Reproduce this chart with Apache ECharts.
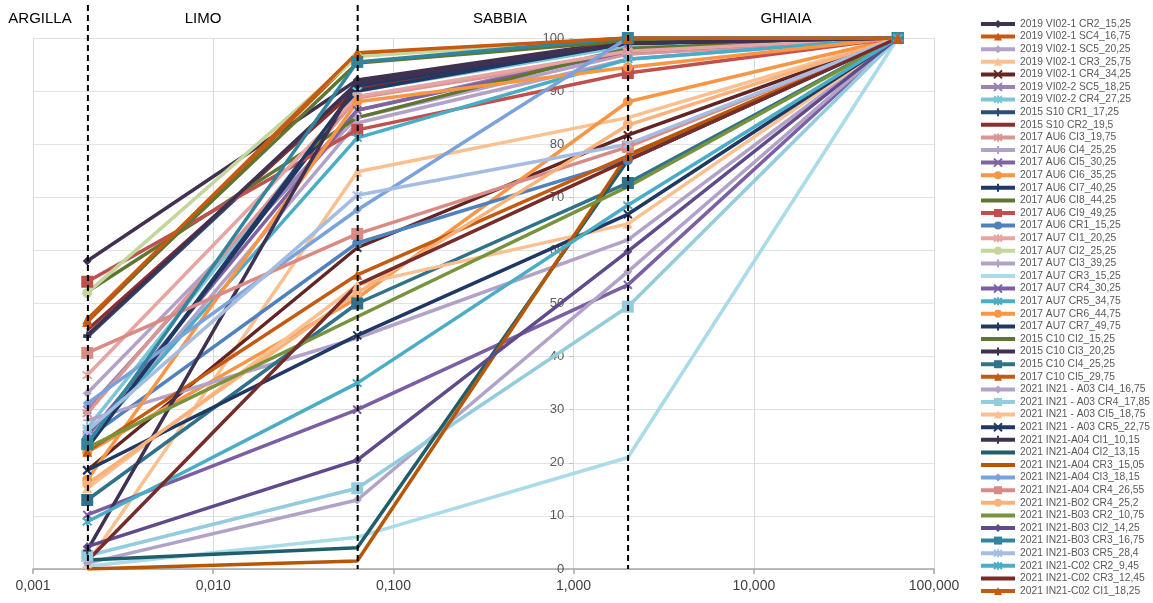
<!DOCTYPE html>
<html>
<head>
<meta charset="utf-8">
<script src="https://cdn.jsdelivr.net/npm/echarts@6/dist/echarts.min.js"></script>
<style>
  html, body { margin: 0; padding: 0; background: #ffffff; }
  #chart { width: 1153px; height: 603px; }
</style>
</head>
<body>
<div id="chart"></div>
<script>
// Sieve sizes (mm) at which the passing percentage was measured
const grainSizes = [0.002, 0.063, 2, 63];

const sampleNames = [
  '2019 VI02-1 CR2_15,25', '2019 VI02-1 SC4_16,75', '2019 VI02-1 SC5_20,25', '2019 VI02-1 CR3_25,75',
  '2019 VI02-1 CR4_34,25', '2019 VI02-2 SC5_18,25', '2019 VI02-2 CR4_27,25', '2015 S10 CR1_17,25',
  '2015 S10 CR2_19,5', '2017 AU6 CI3_19,75', '2017 AU6 CI4_25,25', '2017 AU6 CI5_30,25',
  '2017 AU6 CI6_35,25', '2017 AU6 CI7_40,25', '2017 AU6 CI8_44,25', '2017 AU6 CI9_49,25',
  '2017 AU6 CR1_15,25', '2017 AU7 CI1_20,25', '2017 AU7 CI2_25,25', '2017 AU7 CI3_39,25',
  '2017 AU7 CR3_15,25', '2017 AU7 CR4_30,25', '2017 AU7 CR5_34,75', '2017 AU7 CR6_44,75',
  '2017 AU7 CR7_49,75', '2015 C10 CI2_15,25', '2015 C10 CI3_20,25', '2015 C10 CI4_25,25',
  '2017 C10 CI5_29,75', '2021 IN21 - A03 CI4_16,75', '2021 IN21 - A03 CR4_17,85', '2021 IN21 - A03 CI5_18,75',
  '2021 IN21 - A03 CR5_22,75', '2021 IN21-A04 CI1_10,15', '2021 IN21-A04 CI2_13,15', '2021 IN21-A04 CR3_15,05',
  '2021 IN21-A04 CI3_18,15', '2021 IN21-A04 CR4_26,55', '2021 IN21-B02 CR4_25,2', '2021 IN21-B03 CR2_10,75',
  '2021 IN21-B03 CI2_14,25', '2021 IN21-B03 CR3_16,75', '2021 IN21-B03 CR5_28,4', '2021 IN21-C02 CR2_9,45',
  '2021 IN21-C02 CR3_12,45', '2021 IN21-C02 CI1_18,25'
];

// Percentage passing at 0.002 mm (clay fraction)
const passAt0002 = [
  58, 46.5, 33.1, 1.1, 18.6, 30, 26.5, 43.7,
  45, 29.3, 23.7, 25, 22, 23, 52.2, 54.1,
  24.6, 36.5, 52, 28, 0.5, 10.2, 24, 16.8,
  22.8, 47, 44, 13, 22.1, 1.1, 2.5, 15.2,
  18.6, 3.5, 1.7, 0, 31.2, 40.7, 16, 22.8,
  4.2, 23.5, 26, 8.9, 1.5, 47
];
// Percentage passing at 0.063 mm (clay + silt)
const passAt0063 = [
  92.1, 96.8, 85, 74.8, 60.5, 86.4, 90, 91,
  90.5, 88.7, 84, 86.4, 51, 90, 85, 82.7,
  61.4, 89, 96.5, 43.5, 6, 30, 81.2, 88,
  91, 95.3, 91.5, 50, 55.4, 13, 15.2, 53.5,
  44, 92, 4, 1.5, 67.6, 63.1, 52, 47.5,
  20.5, 95.5, 70.4, 35, 53.5, 97.2
];
// Percentage passing at 2 mm (clay + silt + sand)
const passAt2 = [
  99.5, 100, 97, 85, 81.7, 98, 98.5, 99,
  99.5, 97, 96, 97.5, 88, 99, 98, 93.4,
  77, 97.5, 100, 62, 21, 53.5, 96, 94.5,
  99, 99.5, 99, 72.7, 77.8, 56, 49.4, 65,
  66.8, 99, 77, 78, 100, 79.5, 83.6, 72,
  59.8, 100, 80, 68.5, 77, 100
];
// Percentage passing at 63 mm
const passAt63 = [
  100, 100, 100, 100, 100, 100, 100, 100,
  100, 100, 100, 100, 100, 100, 100, 100,
  100, 100, 100, 100, 100, 100, 100, 100,
  100, 100, 100, 100, 100, 100, 100, 100,
  100, 100, 100, 100, 100, 100, 100, 100,
  100, 100, 100, 100, 100, 100
];

const xTickLabels = ['0,001', '0,010', '0,100', '1,000', '10,000', '100,000'];
const classBounds = [0.002, 0.063, 2];
const classLabels = ['ARGILLA', 'LIMO', 'SABBIA', 'GHIAIA'];

// Line colours and marker kinds per sample
const lineColors = [
  '#403152', '#C55A11', '#B3A2C7', '#FAC090', '#632523', '#9983B5', '#7DC6D8', '#2C4D75',
  '#8B2F2C', '#D99694', '#B3A2C7', '#7F62A0', '#F79646', '#1F3864', '#5F7530', '#C0504D',
  '#4F81BD', '#E6A5A3', '#C3D69B', '#B3A2C7', '#A9DBE8', '#7B5FA5', '#4BACC6', '#F79646',
  '#1F3864', '#5F7530', '#3F3151', '#31718A', '#C55A11', '#B3A2C7', '#93CDDD', '#FAC090',
  '#1F3864', '#3F3151', '#1F5E6B', '#B65708', '#7BA3DB', '#DA8A85', '#FAB27A', '#77933C',
  '#5F4A8B', '#31859C', '#A6BDE3', '#4BACC6', '#772C2A', '#C55A11'
];
const markerKinds = [
  'diamond', 'triangle', 'diamond', 'triangle', 'x', 'x', 'star', 'plus',
  'none', 'star', 'plus', 'x', 'circle', 'plus', 'none', 'square',
  'circle', 'star', 'circle', 'plus', 'none', 'x', 'star', 'circle',
  'plus', 'none', 'plus', 'square', 'triangle', 'diamond', 'square', 'triangle',
  'x', 'plus', 'none', 'none', 'diamond', 'square', 'circle', 'none',
  'diamond', 'square', 'star', 'star', 'none', 'triangle'
];

const MARKERS = {
  diamond:  { symbol: 'diamond', size: 9, stroke: false },
  triangle: { symbol: 'triangle', size: 10, stroke: false },
  circle:   { symbol: 'circle', size: 10, stroke: false },
  square:   { symbol: 'rect', size: 12, stroke: false },
  x:        { symbol: 'path://M0,0L10,10M10,0L0,10', size: 8, stroke: true },
  plus:     { symbol: 'path://M5,0L5,10M0,5L10,5', size: 8, stroke: true },
  star:     { symbol: 'path://M0,1L10,9M10,1L0,9M5,0L5,10', size: 9, stroke: true }
};

const passing = [passAt0002, passAt0063, passAt2, passAt63];

const series = sampleNames.map(function (name, i) {
  const m = MARKERS[markerKinds[i]];
  const c = lineColors[i];
  return {
    name: name,
    type: 'line',
    data: grainSizes.map(function (g, k) { return [g, passing[k][i]]; }),
    symbol: m ? m.symbol : 'none',
    symbolSize: m ? m.size : 0,
    showSymbol: !!m,
    lineStyle: { color: c, width: 3.5 },
    itemStyle: {
      color: c,
      borderColor: c,
      borderWidth: m && m.stroke ? 2 : 0
    },
    emphasis: { disabled: true },
    silent: true
  };
});

// Legend entries: lines without markers get an invisible legend symbol
const legendItems = sampleNames.map(function (name, i) {
  if (MARKERS[markerKinds[i]]) return { name: name };
  return { name: name, itemStyle: { color: 'rgba(0,0,0,0)', borderWidth: 0, opacity: 0 } };
});

const chart = echarts.init(document.getElementById('chart'), null, { renderer: 'canvas' });

const FONT = 'Liberation Sans, Arial, sans-serif';

chart.setOption({
  animation: false,
  backgroundColor: '#ffffff',
  grid: { left: 33, right: 219, top: 38, bottom: 34, containLabel: false },
  xAxis: {
    type: 'log',
    logBase: 10,
    min: 0.001,
    max: 100,
    axisLine: { show: true, lineStyle: { color: '#A6A6A6', width: 1.5 } },
    axisTick: { show: true, length: 5, lineStyle: { color: '#A6A6A6', width: 1.5 } },
    axisLabel: {
      color: '#404040',
      fontSize: 14,
      fontFamily: FONT,
      margin: 10,
      formatter: function (v) {
        const idx = Math.round(Math.log10(v)) + 3;
        return xTickLabels[idx] !== undefined ? xTickLabels[idx] : '';
      }
    },
    splitLine: { show: true, lineStyle: { color: '#D9D9D9', width: 1 } },
    minorTick: { show: false }
  },
  yAxis: {
    type: 'value',
    min: 0,
    max: 100,
    interval: 10,
    position: 'left',
    offset: 0,
    axisLine: { show: true, lineStyle: { color: '#D9D9D9', width: 1 } },
    axisTick: { show: true, length: 4, lineStyle: { color: '#BFBFBF' } },
    axisLabel: { color: '#595959', fontSize: 13, fontFamily: FONT, margin: 9 },
    splitLine: { show: true, lineStyle: { color: '#E3E3E3', width: 1 } }
  },
  legend: {
    type: 'plain',
    orient: 'vertical',
    left: 979,
    top: 18,
    padding: 0,
    itemWidth: 34,
    itemHeight: 10,
    itemGap: 0.6,
    lineStyle: { width: 4 },
    textStyle: { color: '#595959', fontSize: 10.3, fontFamily: FONT, lineHeight: 12 },
    data: legendItems
  },
  series: series
});

// Place the vertical axis where x = 1 mm and draw the class boundaries
function xPix(v) { return chart.convertToPixel({ xAxisIndex: 0 }, v); }
function yPix(v) { return chart.convertToPixel({ yAxisIndex: 0 }, v); }

const axisShift = xPix(1) - xPix(0.001);
const baseY = yPix(0);

const boundaryLines = classBounds.map(function (b) {
  const px = xPix(b);
  return {
    type: 'line',
    z: 100,
    silent: true,
    shape: { x1: px, y1: 5, x2: px, y2: baseY },
    style: { stroke: '#000000', lineWidth: 2, lineDash: [6, 4] }
  };
});

const classCenters = [40, 203, 500, 786];
const classTexts = classLabels.map(function (t, i) {
  return {
    type: 'text',
    z: 100,
    silent: true,
    x: classCenters[i],
    y: 19,
    style: {
      text: t,
      fill: '#000000',
      font: '15px ' + FONT,
      align: 'center',
      verticalAlign: 'middle'
    }
  };
});

chart.setOption({
  yAxis: { offset: -axisShift },
  graphic: boundaryLines.concat(classTexts)
});
</script>
</body>
</html>
